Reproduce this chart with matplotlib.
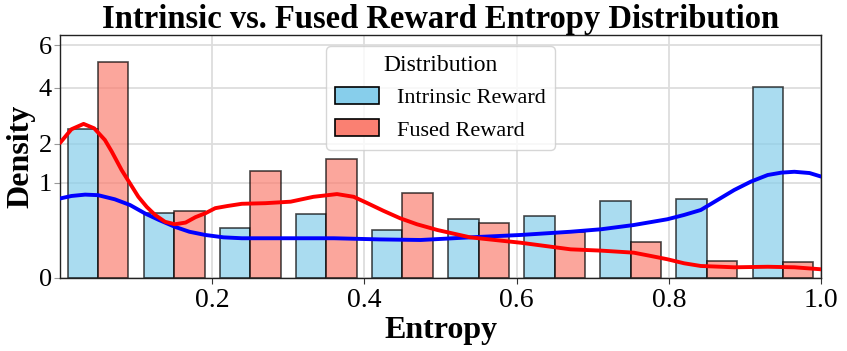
import numpy as np
import matplotlib
matplotlib.use('Agg')
import matplotlib.pyplot as plt
from matplotlib.patches import Patch

plt.rcParams['font.family'] = ['Liberation Serif', 'DejaVu Serif']

# bin edges and densities for each bin
bin_edges = [0.0, 0.1, 0.2, 0.3, 0.4, 0.5, 0.6, 0.7, 0.8, 0.9, 1.0]
intrinsic_density = [2.46, 0.468, 0.277, 0.454, 0.255, 0.386, 0.426, 0.657, 0.692, 4.04]
fused_density = [5.17, 0.497, 1.27, 1.57, 0.80, 0.335, 0.234, 0.144, 0.032, 0.028]

# KDE curves
intrinsic_kde_x = [0, 0.015, 0.033, 0.05, 0.072, 0.092, 0.112, 0.13, 0.151, 0.17, 0.191, 0.215,
                   0.239, 0.30, 0.36, 0.42, 0.474, 0.539, 0.605, 0.671, 0.711, 0.754, 0.798,
                   0.82, 0.842, 0.864, 0.886, 0.908, 0.930, 0.948, 0.965, 0.985, 1.0]
intrinsic_kde_y = [0.70, 0.745, 0.77, 0.76, 0.686, 0.59, 0.46, 0.373, 0.29, 0.237, 0.205, 0.183,
                   0.175, 0.175, 0.175, 0.165, 0.16, 0.183, 0.205, 0.237, 0.263, 0.311, 0.382,
                   0.44, 0.512, 0.674, 0.858, 1.03, 1.175, 1.23, 1.25, 1.22, 1.14]
fused_kde_x = [0, 0.015, 0.031, 0.045, 0.059, 0.068, 0.081, 0.092, 0.103, 0.114, 0.125, 0.138,
               0.151, 0.165, 0.178, 0.191, 0.204, 0.22, 0.239, 0.27, 0.303, 0.333, 0.364,
               0.386, 0.404, 0.425, 0.447, 0.469, 0.496, 0.539, 0.605, 0.671, 0.711, 0.754,
               0.776, 0.798, 0.82, 0.842, 0.886, 0.930, 0.965, 1.0]
fused_kde_y = [2.02, 2.45, 2.63, 2.48, 2.11, 1.77, 1.29, 0.99, 0.73, 0.56, 0.44, 0.35,
               0.32, 0.34, 0.41, 0.464, 0.54, 0.574, 0.61, 0.62, 0.645, 0.73, 0.78,
               0.73, 0.62, 0.50, 0.395, 0.32, 0.255, 0.183, 0.138, 0.091, 0.083, 0.071,
               0.054, 0.039, 0.024, 0.016, 0.0127, 0.014, 0.0127, 0.0084]

series_labels = ['Intrinsic Reward', 'Fused Reward']
bar_colors = ['skyblue', 'salmon']
line_colors = ['blue', 'red']

fig = plt.figure(figsize=(8.47, 3.51), dpi=100)
ax = fig.add_axes([60/847, 1-278/351, 761/847, 243/351])

edges = np.array(bin_edges)
bw = edges[1] - edges[0]
# dodge: two bars per bin, shrink 0.8
sub_w = bw * 0.8 / 2
left0 = edges[:-1] + bw * 0.1
for k, dens in enumerate([intrinsic_density, fused_density]):
    ax.bar(left0 + k*sub_w, dens, width=sub_w, align='edge', color=bar_colors[k],
           edgecolor='black', linewidth=1.2, alpha=0.7, zorder=2)

ax.plot(intrinsic_kde_x, intrinsic_kde_y, color=line_colors[0], lw=2.8, zorder=3,
        solid_joinstyle='round', solid_capstyle='round')
ax.plot(fused_kde_x, fused_kde_y, color=line_colors[1], lw=2.8, zorder=3,
        solid_joinstyle='round', solid_capstyle='round')

# sqrt y scale
ax.set_yscale('function', functions=(lambda v: np.sqrt(np.clip(v, 0, None)), lambda v: v**2))
ax.set_ylim(0, 6.54)
ax.set_xlim(0, 1.0)
ax.set_yticks([0, 1, 2, 4, 6])
ax.set_yticklabels(['0', '1', '2', '4', '6'])
ax.set_xticks([0.2, 0.4, 0.6, 0.8, 1.0])
ax.set_xticklabels(['0.2', '0.4', '0.6', '0.8', '1.0'])
ax.tick_params(axis='x', labelsize=20, length=4, color='#333333')
ax.tick_params(axis='y', labelsize=19, length=4, color='#999999', pad=2)
ax.grid(True, color='#dddddd', linewidth=1.3, zorder=0)
ax.set_axisbelow(True)
for s in ax.spines.values():
    s.set_color('#222222')
    s.set_linewidth(1.0)

ax.set_title('Intrinsic vs. Fused Reward Entropy Distribution', fontsize=23.5,
             fontweight='bold', pad=4)
ax.set_xlabel('Entropy', fontsize=23, fontweight='bold', labelpad=2)
ax.set_ylabel('Density', fontsize=23, fontweight='bold', labelpad=2)

handles = [Patch(facecolor=bar_colors[i], edgecolor='black', linewidth=1.2) for i in range(2)]
leg = ax.legend(handles, series_labels, title='Distribution', loc='upper center',
                fontsize=16, title_fontsize=17, frameon=True, handlelength=2.0,
                handleheight=0.8, borderaxespad=0.5)
leg.get_frame().set_edgecolor('#cccccc')

plt.savefig('out.png', dpi=100)
